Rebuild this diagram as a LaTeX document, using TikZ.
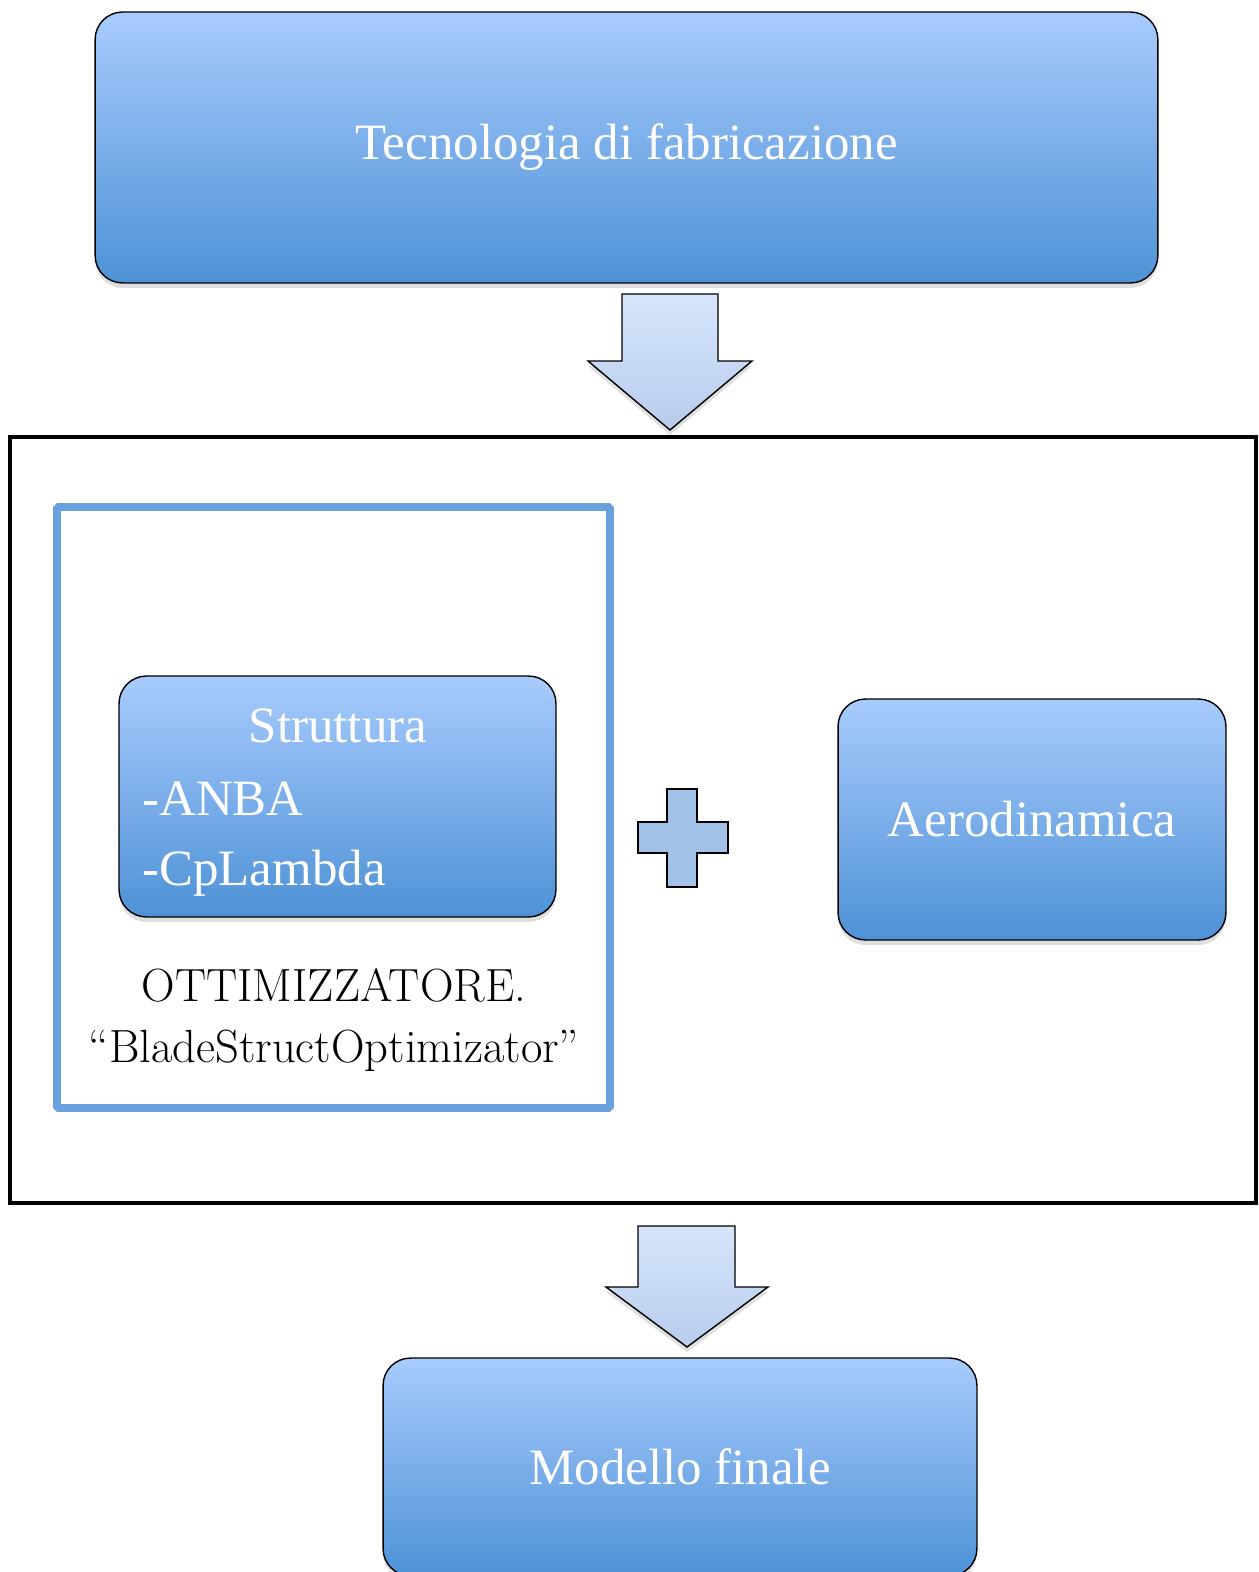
\documentclass[tikz,border=0pt]{standalone}
\usepackage{fontspec}
\newfontfamily\boxfont{Liberation Serif}
\usetikzlibrary{shadows}
\definecolor{boxtop}{HTML}{A8CBFD}
\definecolor{boxbottom}{HTML}{4E92D6}
\definecolor{arrowtop}{HTML}{D6E5FC}
\definecolor{arrowbottom}{HTML}{B8CCEB}
\definecolor{frameblue}{HTML}{68A1DD}
\definecolor{plusblue}{HTML}{A3C2E8}
\tikzset{
    softshadow/.style={drop shadow={opacity=0.25, shadow xshift=0pt, shadow yshift=-0.1cm}},
    bluebox/.style={draw=black, line width=0.8pt, rounded corners=0.55cm, top color=boxtop, bottom color=boxbottom, text=white, font=\boxfont\fontsize{29}{35}\selectfont, softshadow},
    boxlabel/.style={text=white, font=\boxfont\fontsize{29}{35}\selectfont, inner sep=0pt},
    blockarrow/.style={draw=black, line width=0.8pt, top color=arrowtop, bottom color=arrowbottom, softshadow}
}
\begin{document}
\begin{tikzpicture}[x=0.02cm, y=-0.02cm]
    \useasboundingbox (0,0) rectangle (1258,1572);
    % top block
    \node[bluebox, minimum width=21.26cm, minimum height=5.42cm] (tecnologia) at (626.5,147.5) {Tecnologia di fabricazione};
    \shade[blockarrow] (622,294) -- (718,294) -- (718,361) -- (752,361) -- (670,430) -- (588,361) -- (622,361) -- cycle;
    % middle frame
    \draw[line width=2pt] (10,437) rectangle (1256,1203);
    \draw[frameblue, line width=4.5pt, rounded corners=1pt] (57,507) rectangle (610,1108);
    \node[bluebox, minimum width=8.74cm, minimum height=4.82cm] (struttura) at (337.5,796.5) {};
    \node[boxlabel, anchor=base] (strutturatitle) at (338,742) {Struttura};
    \node[boxlabel, anchor=base west] (anba) at (142,815) {-ANBA};
    \node[boxlabel, anchor=base west] (cplambda) at (142,885) {-CpLambda};
    \node[align=center, font=\fontsize{26.5}{35}\selectfont] (ottimizzatore) at (334,1020) {OTTIMIZZATORE.\\``BladeStructOptimizator''};
    \draw[fill=plusblue, line width=0.8pt] (667,789) -- (697,789) -- (697,822) -- (728,822) -- (728,853) -- (697,853) -- (697,887) -- (667,887) -- (667,853) -- (638,853) -- (638,822) -- (667,822) -- cycle;
    \node[bluebox, minimum width=7.76cm, minimum height=4.82cm] (aerodinamica) at (1032,819.5) {Aerodinamica};
    % bottom block
    \shade[blockarrow] (638,1226) -- (735,1226) -- (735,1287) -- (768,1287) -- (687,1347) -- (606,1287) -- (638,1287) -- cycle;
    \node[bluebox, minimum width=11.88cm, minimum height=4.36cm] (modello) at (680,1467) {Modello finale};
\end{tikzpicture}
\end{document}
